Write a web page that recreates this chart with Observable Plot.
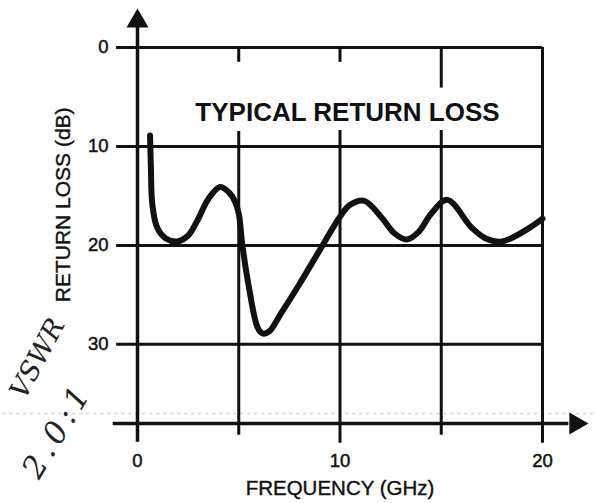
<!DOCTYPE html>
<html><head><meta charset="utf-8">
<script src="https://cdn.jsdelivr.net/npm/d3@7"></script>
<script src="https://cdn.jsdelivr.net/npm/@observablehq/plot@0.6"></script>
<style>body{margin:0;background:#fff}svg{font-family:"Liberation Sans",Arial,sans-serif}</style>
</head><body><div id="chart"></div>
<script>
// Return loss curve
const freq = [0.62, 0.66, 0.73, 0.97, 1.4, 1.97, 2.5, 2.95, 3.5, 4.07, 4.5, 4.8, 5.0, 5.18, 5.5, 5.93, 6.17, 6.5, 7.08, 8.0, 9.14, 10.0, 10.5, 11.2, 12.1, 12.7, 13.3, 13.9, 14.5, 15.3, 16.5, 17.2, 18.0, 19.3, 20.0];
const loss = [8.9, 12.0, 15.8, 18.2, 19.3, 19.6, 19.0, 17.5, 15.3, 14.1, 14.6, 15.5, 16.8, 20.0, 24.2, 28.3, 28.9, 28.7, 26.9, 23.9, 20.0, 17.1, 15.9, 15.5, 17.3, 18.8, 19.4, 18.6, 16.8, 15.4, 18.2, 19.3, 19.6, 18.3, 17.3];
const xTickLabels = [0, 10, 20];
const yTickLabels = [0, 10, 20, 30];
const gridY = [0, 10, 20, 30];
const gridX = [5, 10, 15, 20];
const axisBase = 38;               // dB level of the frequency axis
const gapTop = [1.5, 1.5, 4.1, 0];  // upper stub length of each vertical grid line
const gapBottom = [8.5, 8.4, 8.4, 0];
const titleText = "TYPICAL RETURN LOSS";
const xLabel = "FREQUENCY (GHz)";
const yLabel = "RETURN LOSS (dB)";
const note1 = "VSWR";
const note2 = "2.0:1";

const data = freq.map((f, i) => ({f, l: loss[i]}));
const vSeg = [];
gridX.forEach((x, i) => {
  if (gapTop[i] > 0) {
    vSeg.push({x, y1: 0, y2: gapTop[i]});
    vSeg.push({x, y1: gapBottom[i], y2: axisBase + (x % 10 === 0 ? 2 : 1.2)});
  } else vSeg.push({x, y1: 0, y2: axisBase + 2});
});
const ink = "#111";

const plot = Plot.plot({
  width: 595, height: 503,
  marginLeft: 137, marginRight: 53, marginTop: 47, marginBottom: 80,
  x: {domain: [0, 20], axis: null},
  y: {domain: [0, axisBase], reverse: true, axis: null},
  style: {background: "#fff", color: ink},
  marks: [
    // faint scan line
    Plot.ruleY([axisBase - 1], {x1: -7, x2: 23, stroke: "#888", strokeOpacity: 0.35, strokeDasharray: "3,4", strokeWidth: 1.5}),
    Plot.ruleY(gridY, {x1: -1.03, x2: 20, stroke: ink, strokeWidth: 3}),
    Plot.ruleX(vSeg, {x: "x", y1: "y1", y2: "y2", stroke: ink, strokeWidth: 3}),
    // y axis with arrow
    Plot.ruleX([0], {y1: -2.6, y2: axisBase + 1.9, stroke: ink, strokeWidth: 3.5}),
    Plot.dot([0], {x: 0, y: -2.66, symbol: "triangle", r: 8.2, fill: ink, stroke: "none"}),
    // x axis with arrow
    Plot.ruleY([axisBase], {x1: -1.2, x2: 21.3, stroke: ink, strokeWidth: 3.5}),
    Plot.dot([0], {x: 21.64, y: axisBase, symbol: "triangle", r: 8.2, rotate: 90, fill: ink, stroke: "none"}),
    // curve
    Plot.line(data, {x: "f", y: "l", curve: "catmull-rom", stroke: ink, strokeWidth: 6, strokeLinecap: "round", strokeLinejoin: "round"}),
    // tick labels
    Plot.text(yTickLabels, {x: 0, y: d => d, text: d => String(d), dx: -29, textAnchor: "end", fontSize: 18.5, fill: ink, stroke: ink, strokeWidth: 0.5}),
    Plot.text(xTickLabels, {x: d => d, y: axisBase, text: d => String(d), dy: 38, fontSize: 18.5, fill: ink, stroke: ink, strokeWidth: 0.5}),
    // labels
    Plot.text([titleText], {x: 10.37, y: 6.6, text: d => d, fontSize: 26, fontWeight: "bold", fill: ink}),
    Plot.text([xLabel], {x: 10.0, y: axisBase, text: d => d, dy: 65, fontSize: 20.5, fill: ink, stroke: ink, strokeWidth: 0.4}),
    Plot.text([yLabel], {x: 0, y: 15.9, text: d => d, dx: -74, rotate: -90, fontSize: 21, fill: ink, stroke: ink, strokeWidth: 0.4}),
    // handwritten note
    Plot.text([note1], {x: 0, y: axisBase, text: d => d, dx: -100, dy: -65, rotate: -62, fontSize: 27, fontStyle: "italic", fontFamily: "DejaVu Serif", fill: "#222"}),
    Plot.text([note2], {x: 0, y: axisBase, text: d => d, dx: -80, dy: 7, rotate: -59, fontSize: 31, fontStyle: "italic", fontFamily: "DejaVu Serif", fill: "#222", className: "note2"})
  ]
});
d3.select(plot).selectAll(".note2 text").attr("letter-spacing", "5px");
document.getElementById("chart").append(plot);
</script>
</body></html>
